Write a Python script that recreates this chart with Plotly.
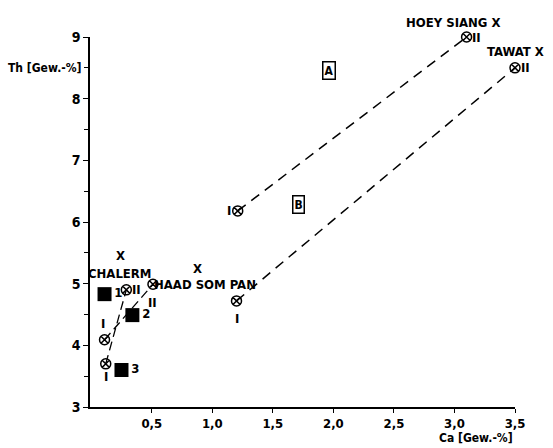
import plotly.graph_objects as go

FONT = "Liberation Sans Narrow, DejaVu Sans Condensed, Arial Narrow, sans-serif"

# Ca / Th values (Gew.-%)
circle_names = ["HOEY SIANG II", "TAWAT II", "A I", "B I", "CHALERM II", "HAAD SOM PAN II", "I (upper)", "I (lower)"]
circle_ca = [3.1, 3.5, 1.21, 1.2, 0.29, 0.51, 0.11, 0.12]
circle_th = [9.0, 8.5, 6.18, 4.72, 4.9, 4.99, 4.09, 3.7]

square_labels = ["1", "2", "3"]
square_ca = [0.11, 0.34, 0.25]
square_th = [4.83, 4.49, 3.6]

# dashed connections (index pairs into circle lists)
dashed_pairs = [(2, 0), (3, 1)]
solid_pairs = [(7, 4), (6, 5)]

x_ticks = [0.5, 1.0, 1.5, 2.0, 2.5, 3.0, 3.5]
x_ticktext = ["0,5", "1,0", "1,5", "2,0", "2,5", "3,0", "3,5"]
y_ticks = [3, 4, 5, 6, 7, 8, 9]

fig = go.Figure()

for a, b in dashed_pairs:
    fig.add_trace(go.Scatter(x=[circle_ca[a], circle_ca[b]], y=[circle_th[a], circle_th[b]],
                             mode="lines", line=dict(color="black", width=1.5, dash="10px,7px"),
                             showlegend=False, hoverinfo="skip", cliponaxis=False))
for a, b in solid_pairs:
    fig.add_trace(go.Scatter(x=[circle_ca[a], circle_ca[b]], y=[circle_th[a], circle_th[b]],
                             mode="lines", line=dict(color="black", width=1.3, dash="9px,5px"),
                             showlegend=False, hoverinfo="skip", cliponaxis=False))

fig.add_trace(go.Scatter(x=square_ca, y=square_th, mode="markers+text",
                         marker=dict(symbol="square", size=14, color="black"),
                         text=["<b>" + s + "</b>" for s in square_labels], textposition="middle right",
                         textfont=dict(family=FONT, size=13, color="black"),
                         showlegend=False, cliponaxis=False))

fig.add_trace(go.Scatter(x=circle_ca, y=circle_th, mode="markers",
                         marker=dict(symbol="circle-x-open", size=10, color="black",
                                     line=dict(width=1.5, color="black")),
                         showlegend=False, cliponaxis=False, text=circle_names))

# numeral labels next to circles: (index, label, dx px, dy px)
numerals = [(0, "II", 10, 0), (1, "II", 10, 0), (2, "I", -9, 0), (3, "I", 0, 18),
            (4, "II", 10, 0), (5, "II", 0, 18), (6, "I", -2, -16), (7, "I", 0, 13)]
for i, t, dx, dy in numerals:
    fig.add_annotation(x=circle_ca[i], y=circle_th[i], text="<b>" + t + "</b>", showarrow=False,
                       xshift=dx, yshift=-dy, font=dict(family=FONT, size=13, color="black"))

# location names
names = [("<b>HOEY SIANG X</b>", 3.1, 9.0, "right", 36, 15),
         ("<b>TAWAT X</b>", 3.5, 8.5, "right", 31, 16),
         ("<b>CHALERM</b>", 0.24, 5.17, "center", 0, 0),
         ("<b>X</b>", 0.24, 5.45, "center", 0, 0),
         ("<b>HAAD SOM PAN</b>", 0.94, 4.99, "center", 0, 0),
         ("<b>X</b>", 0.88, 5.25, "center", 0, 0)]
for t, x, y, anc, dx, dy in names:
    fig.add_annotation(x=x, y=y, text=t, showarrow=False, xanchor=anc, xshift=dx, yshift=dy,
                       font=dict(family=FONT, size=13, color="black"))

fields = [("A", 1.96, 8.46), ("B", 1.71, 6.29)]
for t, x, y in fields:
    fig.add_annotation(x=x, y=y, text="<b>" + t + "</b>", showarrow=False,
                       bordercolor="black", borderwidth=1.5, borderpad=1,
                       font=dict(family=FONT, size=12, color="black"))

fig.add_annotation(xref="paper", yref="y", x=0, y=8.5, xanchor="right", xshift=-6,
                   text="<b>Th [Gew.-%]</b>", showarrow=False,
                   font=dict(family=FONT, size=12, color="black"))
fig.add_annotation(xref="paper", yref="paper", x=1, y=0, xanchor="right", yanchor="top",
                   yshift=-22, text="<b>Ca [Gew.-%]</b>", showarrow=False,
                   font=dict(family=FONT, size=12, color="black"))

fig.update_layout(
    width=553, height=448,
    margin=dict(l=90, r=38, t=37, b=41),
    paper_bgcolor="white", plot_bgcolor="white",
    showlegend=False,
    xaxis=dict(range=[-0.01, 3.5], showgrid=False, zeroline=False, showline=True,
               linecolor="black", linewidth=1.5, ticks="outside", ticklen=4,
               tickwidth=1.3, tickcolor="black",
               tickvals=x_ticks, ticktext=["<b>" + t + "</b>" for t in x_ticktext],
               tickfont=dict(family=FONT, size=13, color="black")),
    yaxis=dict(range=[3, 9], showgrid=False, zeroline=False, showline=True,
               linecolor="black", linewidth=1.5, ticks="outside", ticklen=5,
               tickwidth=1.3, tickcolor="black",
               tickvals=y_ticks, ticktext=["<b>%d</b>" % v for v in y_ticks],
               tickfont=dict(family=FONT, size=14, color="black"),
               minor=dict(tickvals=[3.5, 4.5, 5.5, 6.5, 7.5, 8.5], ticks="outside",
                          ticklen=4, tickcolor="black", tickwidth=1.2)),
)

fig.write_html("out.html")
